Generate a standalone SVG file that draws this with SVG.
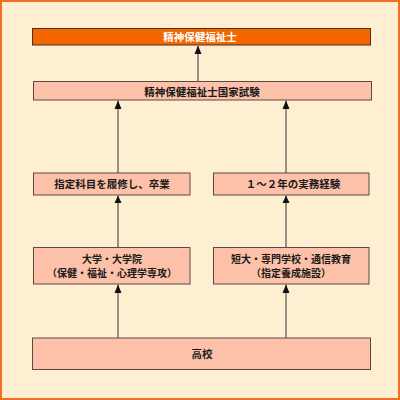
<svg xmlns="http://www.w3.org/2000/svg" width="400" height="400" viewBox="0 0 400 400">
<style>
.box{fill:#FCC1A8;stroke:#5a4a40;stroke-width:1}
.t{font-family:"Noto Sans CJK JP","Noto Sans CJK SC",sans-serif;font-size:10.5px;font-weight:bold;fill:#1a1a1a;text-anchor:middle}
.s{font-size:10px}
.ln{stroke:#333;stroke-width:1}
.ah{fill:#111}
</style>
<rect x="1" y="1" width="398" height="398" fill="#FFEFD2" stroke="#F07020" stroke-width="2"/>
<g id="connectors">
<line class="ln" x1="198" y1="81" x2="198" y2="46"/>
<path class="ah" d="M194.5,54 L198,45.5 L201.5,54 Z"/>
<line class="ln" x1="118" y1="173" x2="118" y2="100.5"/>
<path class="ah" d="M114.5,109 L118,100.5 L121.5,109 Z"/>
<line class="ln" x1="286" y1="173" x2="286" y2="100.5"/>
<path class="ah" d="M282.5,109 L286,100.5 L289.5,109 Z"/>
<line class="ln" x1="118" y1="247" x2="118" y2="195.5"/>
<path class="ah" d="M114.5,203 L118,195.5 L121.5,203 Z"/>
<line class="ln" x1="286" y1="247" x2="286" y2="195.5"/>
<path class="ah" d="M282.5,203 L286,195.5 L289.5,203 Z"/>
<line class="ln" x1="118" y1="338" x2="118" y2="284.5"/>
<path class="ah" d="M114.5,293 L118,284.5 L121.5,293 Z"/>
<line class="ln" x1="286" y1="338" x2="286" y2="284.5"/>
<path class="ah" d="M282.5,293 L286,284.5 L289.5,293 Z"/>
</g>
<g id="n-top">
<rect x="32.5" y="28.5" width="338" height="16.5" fill="#F66600" stroke="#4a3020"/>
<text class="t" x="200" y="40.5" style="fill:#fff">精神保健福祉士</text>
</g>
<g id="n-exam">
<rect class="box" x="33.5" y="81.5" width="338" height="18.5"/>
<text class="t" x="202" y="95.5">精神保健福祉士国家試験</text>
</g>
<g id="n-credits">
<rect class="box" x="33.5" y="173" width="156.5" height="22"/>
<text class="t" x="112" y="188">指定科目を履修し、卒業</text>
</g>
<g id="n-experience">
<rect class="box" x="213.5" y="173" width="155.5" height="22"/>
<text class="t" x="293" y="188">１～２年の実務経験</text>
</g>
<g id="n-university">
<rect class="box" x="33.5" y="247.5" width="156.5" height="36.5"/>
<text class="t s" x="112" y="263">大学・大学院</text>
<text class="t s" x="112" y="276.5">（保健・福祉・心理学専攻）</text>
</g>
<g id="n-college">
<rect class="box" x="213.5" y="247.5" width="155.5" height="36.5"/>
<text class="t s" x="291" y="263">短大・専門学校・通信教育</text>
<text class="t s" x="291" y="276.5">（指定養成施設）</text>
</g>
<g id="n-highschool">
<rect class="box" x="32.5" y="338" width="338" height="31.5"/>
<text class="t" x="202" y="358">高校</text>
</g>
</svg>
